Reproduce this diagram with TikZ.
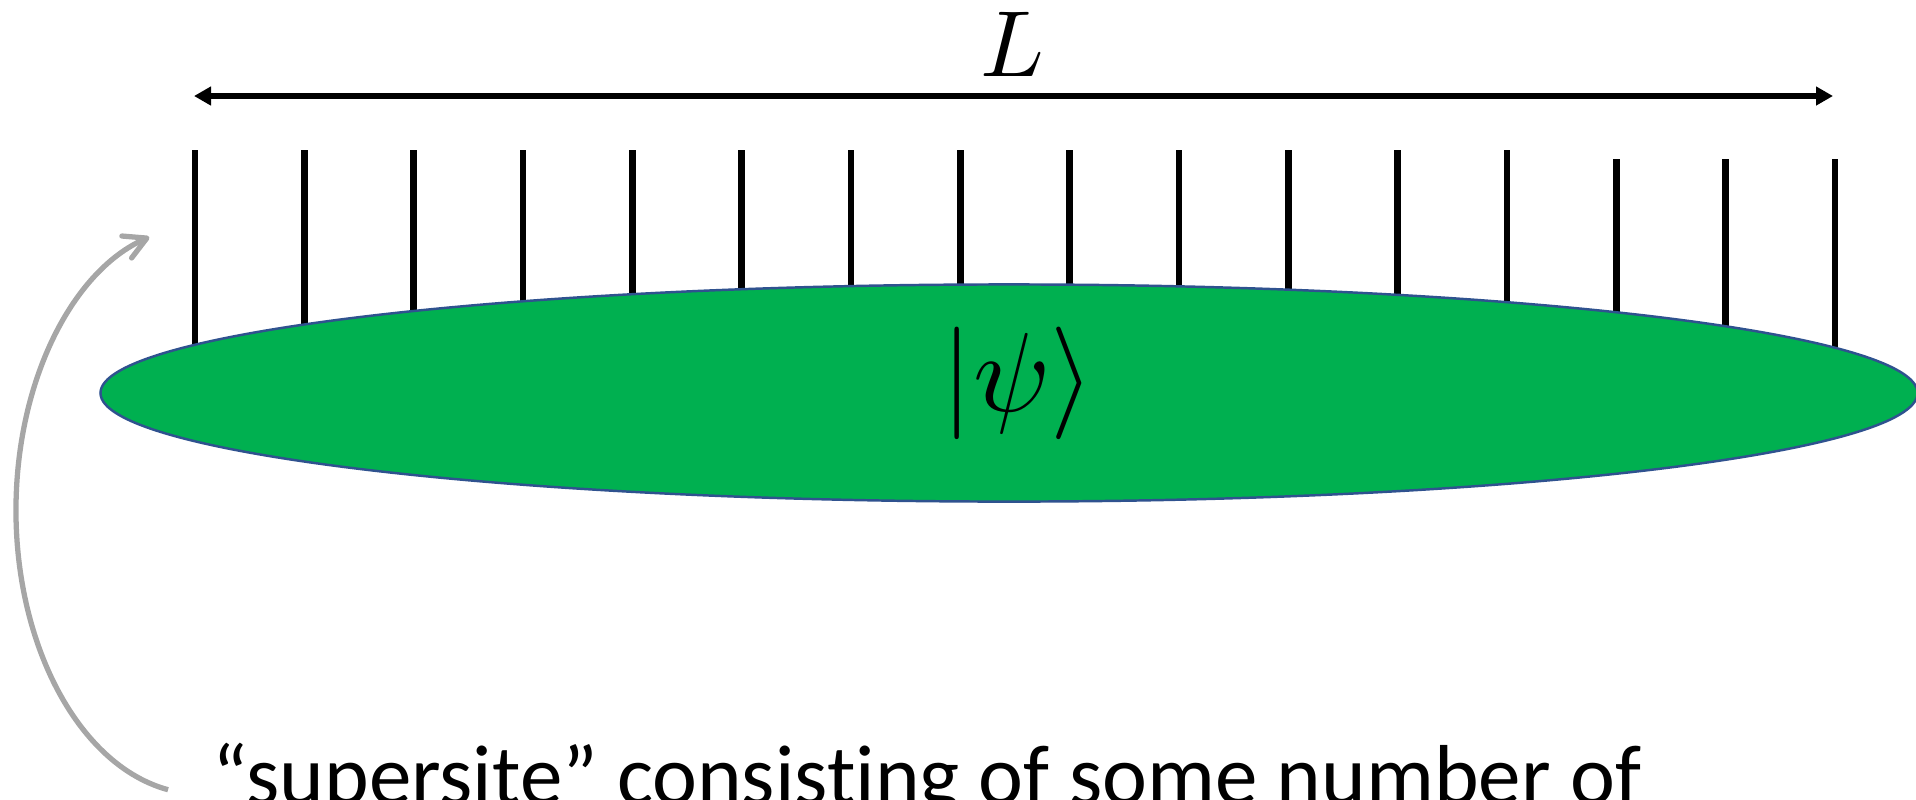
\documentclass[tikz,border=0pt]{standalone}
\usepackage{fontspec}
\newfontfamily\calibri[Ligatures=NoCommon]{Carlito}
\usetikzlibrary{arrows.meta,shapes.geometric}
\definecolor{stategreen}{RGB}{0,176,80}
\definecolor{stateedge}{RGB}{47,82,143}
\definecolor{pointergray}{RGB}{166,166,166}
\begin{document}
\begin{tikzpicture}[x=0.01cm,y=-0.01cm,
  siteleg/.style={line width=1.85pt, black},
  spanarrow/.style={line width=1.75pt, {Triangle[length=0.17cm,width=0.18cm]}-{Triangle[length=0.17cm,width=0.18cm]}},
  statebox/.style={ellipse, draw=stateedge, line width=0.7pt, fill=stategreen, minimum width=18.16cm, minimum height=2.17cm, inner sep=0pt},
  pointer/.style={pointergray, line width=1.5pt, -{Straight Barb[length=0.22cm,width=0.24cm,round]}},
  mathlabel/.style={inner sep=0pt},
  captiontext/.style={inner sep=0pt, anchor=base west, font={\calibri\fontsize{24.2}{29}\selectfont}},
]
\useasboundingbox (0,0) rectangle (1916,799);
\foreach \i in {0,...,15}{
  \pgfmathsetmacro\xx{195+\i*109.33}
  \pgfmathsetmacro\yy{\i<13 ? 150 : 159}
  \coordinate (top\i) at (\xx,\yy);
  \coordinate (foot\i) at (\xx,393);
  \draw[siteleg] (top\i) -- (foot\i);
}
\node[statebox] (state) at (1009,393) {};
\node[mathlabel, scale=3.2] (ket) at (1018,383) {$|\psi\rangle$};
\coordinate (Lleft) at (194,96);
\coordinate (Lright) at (1833,96);
\draw[spanarrow] (Lleft) -- (Lright);
\node[mathlabel, scale=2.67, anchor=base] (Llabel) at (1012,76) {$L$};
\coordinate (arcfoot) at (168.05,789.7);
\draw[pointer] (arcfoot) arc[start angle=100,end angle=254,x radius=184,y radius=284];
\node[captiontext] (caption) at (212,804) {“supersite” consisting of some number of};
\end{tikzpicture}
\end{document}
